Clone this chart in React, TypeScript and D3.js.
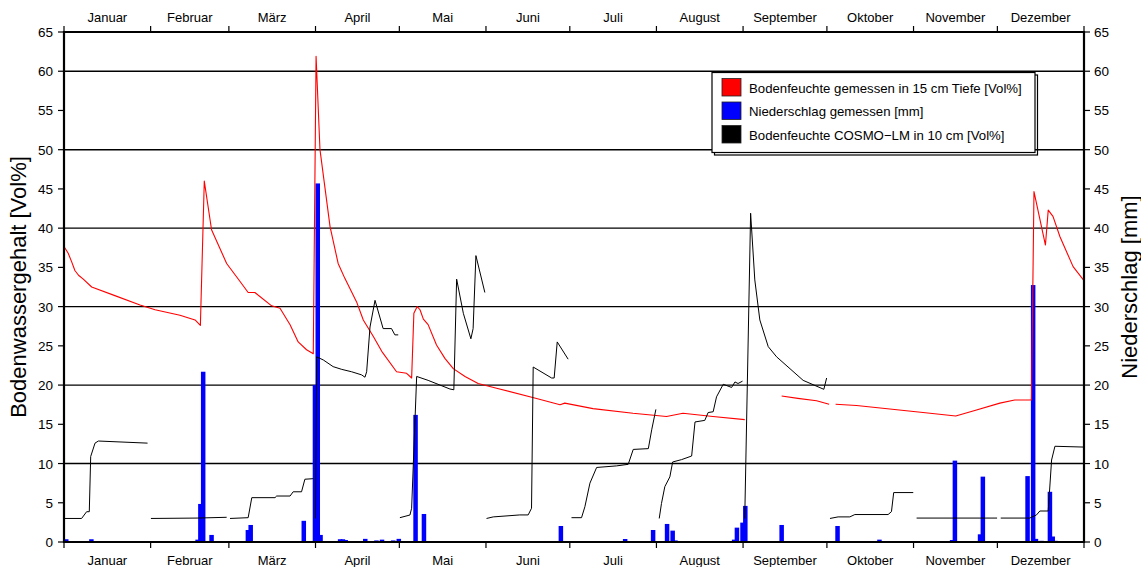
import React from 'react';
import * as d3 from 'd3';

const W = 1141;
const H = 567;
const FONT = '"Liberation Sans", Arial, Helvetica, sans-serif';

const months = ['Januar', 'Februar', 'März', 'April', 'Mai', 'Juni', 'Juli', 'August', 'September', 'Oktober', 'November', 'Dezember'];
const monthStartDays = [0, 31, 59, 90, 120, 151, 181, 212, 243, 273, 304, 334, 365];
const yTicks = [0, 5, 10, 15, 20, 25, 30, 35, 40, 45, 50, 55, 60, 65];
const gridValues = [10, 20, 30, 40, 50, 60];

// daily precipitation [mm]: day of year (0 = 1 Jan) and amount
const rainDays = [0, 9, 47, 48, 49, 52, 65, 66, 85, 89, 90, 91, 98, 99, 100, 107, 111, 113, 117, 119, 125, 128, 146, 174, 175, 177, 200, 210, 215, 217, 218, 239, 240, 242, 243, 256, 276, 291, 317, 318, 327, 328, 344, 346, 347, 349, 352, 353, 354, 357];
const rainMm = [0.35, 0.35, 0.3, 4.85, 21.7, 0.9, 1.53, 2.17, 2.7, 20.0, 45.7, 0.9, 0.35, 0.35, 0.25, 0.4, 0.2, 0.3, 0.2, 0.4, 16.2, 3.57, 0.1, 0.1, 0.1, 2.04, 0.38, 1.53, 2.3, 1.45, 0.2, 0.3, 1.83, 2.47, 4.6, 2.17, 2.04, 0.3, 0.25, 10.37, 0.98, 8.33, 8.4, 32.75, 0.4, 0.15, 6.4, 0.7, 0.15, 0.1];

// measured soil moisture at 15 cm [Vol%]; null = data gap
const measuredDays = [0.1, 1.5, 2.75, 3.9, 5.2, 6.9, 9.9, 18.2, 27.2, 32.6, 41.5, 46.9, 48.8, 50.2, 52.8, 58.2, 63, 65.9, 68.3, 74.3, 77.3, 80.9, 83.8, 86.8, 89.2, 90.2, 91.6, 95.2, 98.1, 100.5, 104.7, 107.1, 110.7, 113.7, 119.0, 122.6, 124.4, 125.2, 126.4, 127.4, 128.6, 130.3, 133.3, 136.3, 139.3, 143.5, 148.2, 154.8, 169.1, 177.5, 179.2, 189.3, 203.6, 215.6, 221.5, 232.2, 243.6, 250, 256.8, 262.6, 269.3, 273.8, 275, 276.1, 283.6, 295.5, 307.4, 319.1, 325.3, 334.9, 340.2, 346.2, 347.1, 351.2, 352.2, 353.9, 356.4, 361.1, 365];
const measuredVol = [37.6, 36.8, 35.7, 34.6, 34.0, 33.5, 32.5, 31.4, 30.2, 29.6, 28.9, 28.3, 27.6, 46.0, 39.8, 35.5, 33.2, 31.8, 31.8, 30.1, 29.8, 27.7, 25.5, 24.5, 24.0, 61.9, 50.0, 40.2, 35.5, 33.6, 30.6, 28.3, 26.2, 24.3, 21.7, 21.5, 20.9, 29.15, 30.0, 29.6, 28.4, 27.7, 25.1, 23.4, 22.1, 21.1, 20.2, 19.6, 18.3, 17.5, 17.7, 17.0, 16.4, 16.0, 16.4, 16.0, 15.6, null, 18.6, 18.3, 18.0, 17.55, null, 17.55, 17.4, 16.95, 16.5, 16.06, 16.7, 17.7, 18.1, 18.1, 44.65, 37.85, 42.3, 41.5, 38.9, 35.1, 33.3];

// COSMO-LM soil moisture at 10 cm [Vol%], one forecast run per month; null = break
const cosmoDays = [0, 6.3, 8.1, 9.05, 9.55, 11.1, 12.3, 29.9, 30.5,
  31.1, 47.6, 58.2, 58.8,
  59.4, 65.9, 67.2, 75.5, 76.1, 80.9, 82, 85, 86.2, 89.2, 89.6,
  90.0, 90.4, 92.8, 96.3, 99.4, 102.9, 106.5, 107.7, 108.3, 109.5, 111.3, 114.2, 117.2, 118.4, 119.6, 119.9,
  120.2, 123.8, 124.4, 126.2, 130.3, 138.1, 139.5, 140.5, 142.9, 145.6, 146.4, 147.4, 150.6, 150.9,
  151.2, 153.6, 163.1, 166.1, 167.3, 167.9, 174.5, 175.4, 176.5, 180.4, 181,
  181.6, 185.2, 186.4, 188.2, 190.6, 197.7, 201.9, 203.7, 209.1, 210.3, 211.8, 212.5,
  213.0, 213.8, 215.0, 216.8, 217.8, 221.0, 224.6, 225.8, 229.3, 230.5, 232.3, 233.5, 235.9, 238.9, 240.1, 241.2, 242.8, 243.2,
  243.6, 245.7, 247.2, 249.0, 252.0, 255.0, 264.5, 271.9, 272.9, 273.5,
  274.1, 277.0, 281.2, 283.0, 294.9, 296.1, 296.9, 303.9, 304.5,
  305.1, 333.9, 334.5,
  335.2, 345.6, 348.0, 349.2, 352.2, 353.4, 354.6, 364.7];
const cosmoVol = [3.0, 3.0, 3.86, 3.86, 10.9, 12.6, 12.87, 12.6, null,
  3.0, 3.05, 3.15, null,
  3.0, 3.1, 5.65, 5.65, 5.86, 5.86, 6.4, 6.4, 8.0, 8.07, null,
  3.0, 23.6, 23.2, 22.35, 22.0, 21.7, 21.3, 21.0, 21.7, 27.4, 30.8, 27.2, 27.2, 26.4, 26.4, null,
  3.1, 3.44, 4.3, 21.1, 20.6, 19.5, 19.4, 33.5, 29.15, 25.9, 27.2, 36.5, 31.8, null,
  3.0, 3.2, 3.45, 3.45, 4.3, 22.3, 20.9, 20.9, 25.5, 23.3, null,
  3.1, 3.1, 4.5, 7.5, 9.5, 9.7, 9.9, 11.8, 11.9, 14.3, 16.9, null,
  3.0, 4.9, 7.05, 8.3, 10.2, 10.5, 10.96, 15.3, 15.5, 16.5, 16.6, 18.5, 20.1, 19.7, 20.4, 20.2, 20.5, null,
  3.0, 41.9, 33.4, 28.3, 24.9, 23.6, 20.6, 19.46, 20.9, null,
  3.0, 3.2, 3.2, 3.5, 3.5, 3.87, 6.3, 6.3, null,
  3.05, 3.05, null,
  3.05, 3.05, 3.45, 3.95, 3.95, 10.45, 12.2, 12.1];

const legendItems = [
  { label: 'Bodenfeuchte gemessen in 15 cm Tiefe [Vol%]', color: '#ff0000' },
  { label: 'Niederschlag gemessen [mm]', color: '#0000ff' },
  { label: 'Bodenfeuchte COSMO\u2212LM in 10 cm [Vol%]', color: '#000000' },
];

export default function App() {
  const left = 64;
  const right = 1084;
  const top = 32;
  const bottom = 542;

  const x = d3.scaleLinear().domain([0, 365]).range([left, right]);
  const y = d3.scaleLinear().domain([0, 65]).range([bottom, top]);

  const measured = measuredDays.map((d, i) => [d, measuredVol[i]] as [number, number | null]);
  const cosmo = cosmoDays.map((d, i) => [d, cosmoVol[i]] as [number, number | null]);

  const line = d3
    .line<[number, number | null]>()
    .defined((p) => p[1] !== null)
    .x((p) => x(p[0]))
    .y((p) => y(p[1] as number));

  const barW = 4.5;

  const lx = 712;
  const ly = 72.5;
  const lw = 323;
  const lh = 80;

  return (
    <div style={{ position: 'absolute', left: 0, top: 0 }}>
      <svg width={W} height={H} style={{ display: 'block', background: '#fff' }} fontFamily={FONT}>
        <defs>
          <clipPath id="plotClip">
            <rect x={left} y={top} width={right - left} height={bottom - top} />
          </clipPath>
        </defs>

        {/* grid lines */}
        {gridValues.map((v) => (
          <line key={'g' + v} x1={left} x2={right} y1={y(v)} y2={y(v)} stroke="#000" strokeWidth={1.4} />
        ))}

        {/* precipitation bars */}
        <g clipPath="url(#plotClip)">
          {rainDays.map((d, i) => (
            <rect
              key={'r' + i}
              x={x(d)}
              y={y(rainMm[i])}
              width={barW}
              height={y(0) - y(rainMm[i])}
              fill="#0000ff"
            />
          ))}
        </g>

        {/* lines */}
        <g clipPath="url(#plotClip)">
          <path d={line(measured) || ''} fill="none" stroke="#ff0000" strokeWidth={1.1} strokeLinejoin="round" />
          <path d={line(cosmo) || ''} fill="none" stroke="#000" strokeWidth={1} strokeLinejoin="round" />
        </g>

        {/* frame */}
        <line x1={left} x2={right} y1={top} y2={top} stroke="#000" strokeWidth={2} />
        <line x1={left} x2={right} y1={bottom} y2={bottom} stroke="#000" strokeWidth={2.2} />
        <line x1={left} x2={left} y1={top - 1} y2={bottom + 1} stroke="#000" strokeWidth={2.2} />
        <line x1={right} x2={right} y1={top - 1} y2={bottom + 1} stroke="#000" strokeWidth={2.2} />

        {/* y ticks and labels, both sides */}
        {yTicks.map((v) => (
          <g key={'yt' + v}>
            <line x1={left - 6} x2={left} y1={y(v)} y2={y(v)} stroke="#000" strokeWidth={1.2} />
            <line x1={right} x2={right + 6} y1={y(v)} y2={y(v)} stroke="#000" strokeWidth={1.2} />
            <text x={left - 11} y={y(v) + 5} textAnchor="end" fontSize={13.5} fill="#000">
              {v}
            </text>
            <text x={right + 10} y={y(v) + 5} textAnchor="start" fontSize={13.5} fill="#000">
              {v}
            </text>
          </g>
        ))}

        {/* month ticks and labels, top and bottom */}
        {monthStartDays.map((d) => (
          <g key={'mt' + d}>
            <line x1={x(d)} x2={x(d)} y1={top - 6} y2={top} stroke="#000" strokeWidth={1.2} />
            <line x1={x(d)} x2={x(d)} y1={bottom} y2={bottom + 6} stroke="#000" strokeWidth={1.2} />
          </g>
        ))}
        {months.map((m, i) => {
          const cx = (x(monthStartDays[i]) + x(monthStartDays[i + 1])) / 2;
          return (
            <g key={'ml' + m}>
              <text x={cx} y={22} textAnchor="middle" fontSize={13} fill="#000">
                {m}
              </text>
              <text x={cx} y={565} textAnchor="middle" fontSize={13} fill="#000">
                {m}
              </text>
            </g>
          );
        })}

        {/* axis titles */}
        <text
          transform={`translate(26, ${(top + bottom) / 2}) rotate(-90)`}
          textAnchor="middle"
          fontSize={22}
          fill="#000"
        >
          Bodenwassergehalt [Vol%]
        </text>
        <text
          transform={`translate(1136.5, ${(top + bottom) / 2}) rotate(-90)`}
          textAnchor="middle"
          fontSize={22}
          fill="#000"
        >
          Niederschlag [mm]
        </text>

        {/* legend */}
        <rect x={lx + 2.5} y={ly + 2.5} width={lw} height={lh} fill="none" stroke="#000" strokeWidth={1.2} />
        <rect x={lx} y={ly} width={lw} height={lh} fill="#fff" stroke="#000" strokeWidth={1.2} />
        {legendItems.map((it, i) => {
          const rowY = ly + 6 + i * 23.5;
          return (
            <g key={'lg' + i}>
              <rect x={lx + 10} y={rowY} width={19} height={17.5} fill={it.color} stroke="#222" strokeWidth={0.8} />
              <text x={lx + 37} y={rowY + 14} fontSize={13.2} fill="#000">
                {it.label}
              </text>
            </g>
          );
        })}
      </svg>
    </div>
  );
}
